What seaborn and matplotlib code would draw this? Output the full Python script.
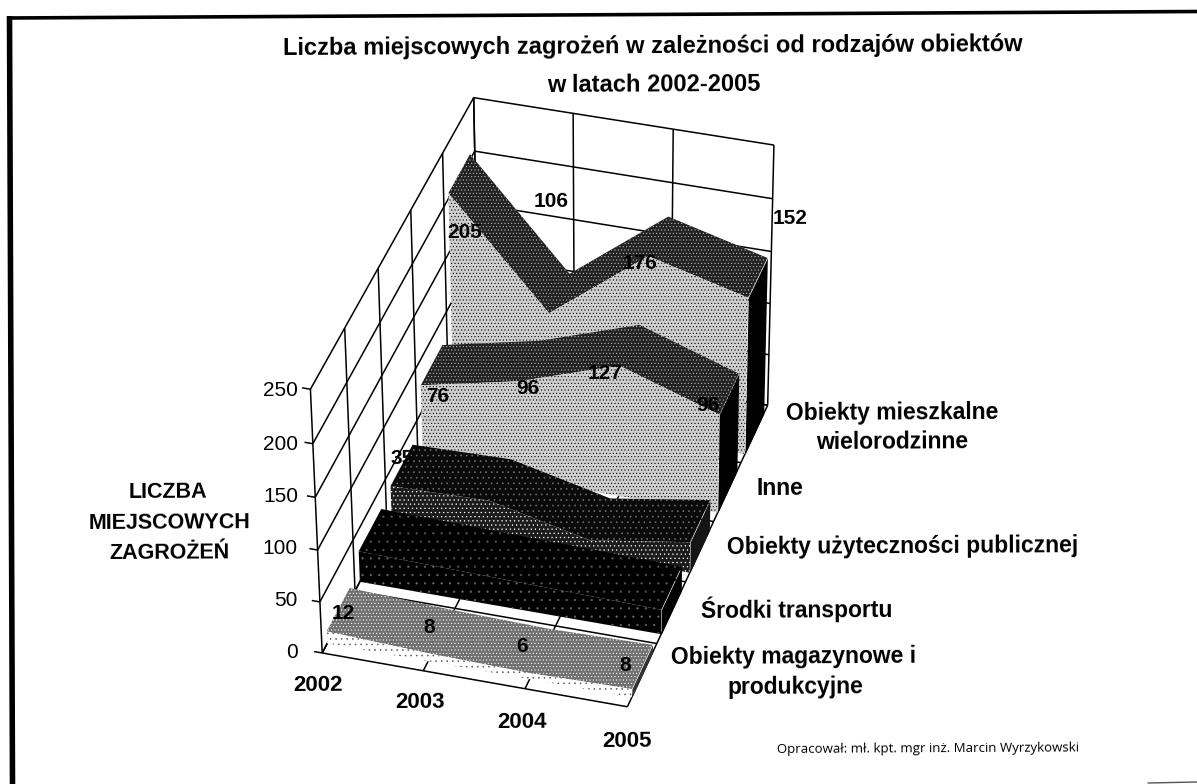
import numpy as np
import matplotlib
matplotlib.use('Agg')
import matplotlib.pyplot as plt
import seaborn as sns
from matplotlib.lines import Line2D
from mpl_toolkits.mplot3d.art3d import Poly3DCollection

W, H = 1197, 784

years = ['2002', '2003', '2004', '2005']
z_ticks = [0, 50, 100, 150, 200, 250]
magazynowe = [12, 8, 6, 8]
transport = [30, 28, 26, 24]
publiczne = [35, 37, 15, 30]
inne = [76, 96, 127, 96]
mieszkalne = [205, 106, 176, 152]
series = [magazynowe, transport, publiczne, inne, mieszkalne]

sns.set_theme(style='white')
plt.rcParams['font.family'] = ['Liberation Sans', 'DejaVu Sans']
plt.rcParams['hatch.linewidth'] = 0.4

# style: front face, top band, side, hatch colour of front and band
styles = [
    (('white', '#555555', '...'), ('#707070', 'white', '.....'), '#333333'),
    (('black', '#666666', '..'), ('black', '#555555', '..'), 'black'),
    (('#1c1c1c', 'white', '....'), ('#0a0a0a', '#777777', '...'), '#151515'),
    (('#cfcfcf', 'black', '.....'), ('#222222', '#bbbbbb', '.....'), 'black'),
    (('#cfcfcf', 'black', '.....'), ('#222222', '#bbbbbb', '.....'), 'black'),
]

fig = plt.figure(figsize=(W / 100, H / 100), dpi=100, facecolor='white')
ax = fig.add_axes([0, 0, 1, 1], projection='3d')
ax.set_axis_off()
ax.set_proj_type('ortho')
ax.computed_zorder = False
ax.apply_aspect()

# kamera dopasowana do narozy pudelka ze skanu
box = np.array([[0, 0, 0], [3, 0, 0], [0, 5, 0], [3, 5, 0],
                [0, 0, 250], [0, 5, 250], [3, 5, 250]], dtype=float)
px = np.array([[322, 652], [628, 707], [478, 358], [768, 405],
               [310, 390], [475, 97], [773, 145]], dtype=float)
uv = ax.transData.inverted().transform(np.c_[px[:, 0], H - px[:, 1]])
rows = []
for (X, Y, Z), (u, v) in zip(box, uv):
    rows.append([X, Y, Z, 1, 0, 0, 0, 0, -u * X, -u * Y, -u * Z, -u])
    rows.append([0, 0, 0, 0, X, Y, Z, 1, -v * X, -v * Y, -v * Z, -v])
P = np.linalg.svd(np.array(rows))[2][-1].reshape(3, 4)
depth = np.linalg.svd(P)[2][-1]
M = np.vstack([P[0], P[1], depth, P[2]])
ax.get_proj = lambda: M
ax.M = M


def grid(xs, ys, zs, lw=1.1, zorder=1):
    ax.plot(xs, ys, zs, color='black', lw=lw, zorder=zorder, solid_capstyle='butt')


def face(verts, color, hatch_color=None, hatch=None, zorder=2):
    poly = Poly3DCollection([verts], facecolor=color, edgecolor=hatch_color or color,
                            linewidth=0, hatch=hatch, zorder=zorder)
    ax.add_collection3d(poly)


# sciany i podloga
for z in z_ticks:
    grid([0, 0], [0, 5], [z, z])
    grid([0, 3], [5, 5], [z, z])
    grid([-0.08, 0], [0, 0], [z, z])
for y in range(6):
    grid([0, 0], [y, y], [0, 250])
    grid([0, 3], [y, y], [0, 0])
for x in range(4):
    grid([x, x], [5, 5], [0, 250])
    grid([x, x], [0, 5], [0, 0])

# obszary od tylu do przodu
xs = range(len(years))
for i, vals in reversed(list(enumerate(series))):
    y0, y1 = i + 0.15, i + 0.85
    base = 10 + (4 - i) * 5
    (fc, fh, fp), (bc, bh, bp), side = styles[i]
    face([(3, y0, 0), (3, y1, 0), (3, y1, vals[-1]), (3, y0, vals[-1])], side, zorder=base)
    band = [(x, y0, v) for x, v in zip(xs, vals)] + [(x, y1, v) for x, v in reversed(list(zip(xs, vals)))]
    face(band, bc, bh, bp, zorder=base + 1)
    front = [(0, y0, 0)] + [(x, y0, v) for x, v in zip(xs, vals)] + [(3, y0, 0)]
    face(front, fc, fh, fp, zorder=base + 2)


def label(x, y, s, size=15, weight='bold', family=None):
    fig.text(x / W, 1 - y / H, s, fontsize=size, fontweight=weight, ha='center', va='center',
             rotation=0.3, rotation_mode='anchor', color='black', family=family)


label(653, 47, 'Liczba miejscowych zagrożeń w zależności od rodzajów obiektów', 17)
label(654, 85, 'w latach 2002-2005', 17)

for z, yy in zip(z_ticks, [652, 600, 548, 496, 444, 390]):
    fig.text(298 / W, 1 - yy / H, str(z), fontsize=15, ha='right', va='center', color='black')

for s, xx, yy in zip(years, [318, 420, 522, 627], [685, 702, 722, 741]):
    label(xx, yy, s, 16)

for s, xx, yy in zip(['LICZBA', 'MIEJSCOWYCH', 'ZAGROŻEŃ'], [168, 170, 169], [492, 523, 553]):
    label(xx, yy, s, 15.5)

cat_labels = ['Obiekty mieszkalne', 'wielorodzinne', 'Inne', 'Obiekty użyteczności publicznej',
              'Środki transportu', 'Obiekty magazynowe i', 'produkcyjne']
for s, xx, yy in zip(cat_labels, [892, 892, 780, 903, 797, 794, 795], [413, 442, 488, 547, 609, 657, 687]):
    label(xx, yy, s, 16.5)

label(928, 749, 'Opracował: mł. kpt. mgr inż. Marcin Wyrzykowski', 9.5, 'normal', ['Open Sans', 'DejaVu Sans'])

# etykiety danych
pos = {0: ([343, 429, 522, 625], [613, 627, 646, 665]),
       3: ([438, 528, 605, 708], [396, 388, 373, 405]),
       4: ([465, 551, 640, 790], [232, 201, 263, 218])}
for i, (lx, ly) in pos.items():
    for v, xx, yy in zip(series[i], lx, ly):
        label(xx, yy, str(v), 15)
label(402, 458, str(publiczne[0]), 15)

# ramka ze skanu
frame = dict(color='black', transform=fig.transFigure, solid_capstyle='butt')
fig.add_artist(Line2D([9.5 / W, 12.5 / W], [1 - 16 / H, 0], lw=4, **frame))
fig.add_artist(Line2D([7 / W, 1], [1 - 18 / H, 1 - 11.5 / H], lw=2.6, **frame))
fig.add_artist(Line2D([1148 / W, 1], [1 - 783 / H, 1 - 782 / H], color='#555555', lw=1, transform=fig.transFigure))

fig.savefig('out.png', dpi=100)
